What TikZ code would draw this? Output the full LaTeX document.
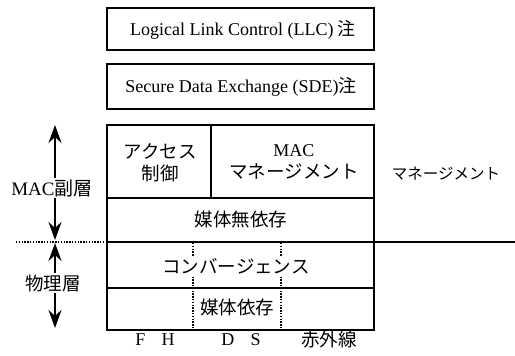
\documentclass[tikz,border=0pt]{standalone}
\usepackage{fontspec}
\setmainfont{Liberation Serif}
\newfontfamily\jp{Noto Sans CJK JP}
\usetikzlibrary{arrows.meta}
\begin{document}
\begin{tikzpicture}[x=1pt,y=-1pt,
  frame/.style={line width=2.2pt},
  thin/.style={line width=1.6pt},
  dots/.style={line width=2pt, dash pattern=on 1.3pt off 1.5pt},
  lbl/.style={inner sep=1pt, font=\jp\fontsize{18.5}{22}\selectfont, align=center},
  lat/.style={inner sep=1pt, font=\fontsize{18}{20}\selectfont},
  dbl/.style={line width=2pt, {Stealth[length=18pt,width=13pt,inset=6pt]}-{Stealth[length=18pt,width=13pt,inset=6pt]}},
]
\useasboundingbox (0,0) rectangle (515,356);
% top boxes
\draw[frame] (107,8) rectangle (374,50);
\node[lat] (llc) at (243,30) {Logical Link Control (LLC) {\jp 注}};
\draw[frame] (107,64) rectangle (374,109);
\node[lat] (sde) at (241,87) {Secure Data Exchange (SDE){\jp 注}};
% main box
\draw[frame] (107,125) rectangle (374,330);
\draw[frame] (211,125) -- (211,198);
\draw[thin] (107,198) -- (374,198);
\draw[thin] (107,288) -- (374,288);
\draw[dots] (193,243) -- (193,330);
\draw[dots] (281,243) -- (281,330);
\draw[frame] (107,242) -- (515,242);
\draw[dots] (16,242) -- (107,242);
% labels in boxes
\node[lbl] (acc) at (160,163) {アクセス\\制御};
\node[lbl] (macm) at (294,162) {{\fontsize{18}{22}\selectfont\rmfamily MAC}\\マネージメント};
\node[lbl, font=\jp\fontsize{15.5}{18}\selectfont] (mgmt) at (446,174) {マネージメント};
\node[lbl] (mi) at (241,219) {媒体無依存};
\node[lbl, fill=white, inner sep=1pt] (conv) at (236,266) {コンバージェンス};
\node[lbl, fill=white, inner sep=0.5pt] (md) at (237,307) {媒体依存};
% bottom
\node[lat] (fh) at (155,340) {F\hspace{0.9em}H};
\node[lat] (ds) at (241,340) {D\hspace{0.9em}S};
\node[lbl] (ir) at (329,340) {赤外線};
% left arrows
\coordinate (a1) at (55,125);
\coordinate (a2) at (55,240);
\coordinate (b1) at (55,243);
\coordinate (b2) at (55,328);
\draw[dbl] (a1) -- (a2);
\draw[dbl] (b1) -- (b2);
\node[fill=white, inner sep=1pt] (mac) at (52,188) {\fontsize{19}{22}\selectfont MAC{\jp 副層}};
\node[lbl, fill=white] (phy) at (53,283) {物理層};
\end{tikzpicture}
\end{document}
